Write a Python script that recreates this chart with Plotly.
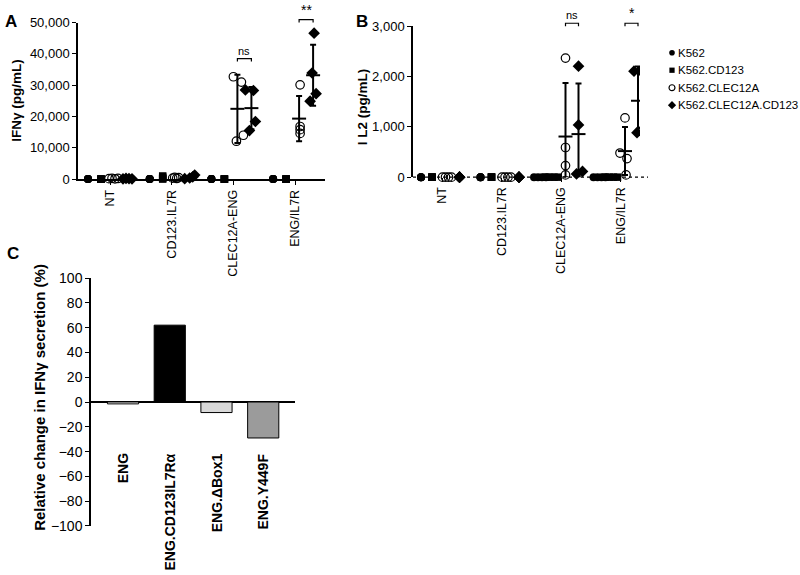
import numpy as np
import plotly.graph_objects as go

# ---------------- data ----------------
GROUPS = ["NT", "CD123.IL7R", "CLEC12A-ENG", "ENG/IL7R"]
TARGETS = ["K562", "K562.CD123", "K562.CLEC12A", "K562.CLEC12A.CD123"]

# Panel A: IFNγ (pg/mL), one list per effector group (4 replicates)
IFNG_K562 = [[0, 0, 0, 0], [0, 0, 0, 0], [0, 0, 0, 0], [0, 0, 0, 0]]
IFNG_K562_CD123 = [[0, 0, 0, 0], [1000, 600, 250, 0], [0, 0, 0, 0], [0, 0, 0, 0]]
IFNG_K562_CLEC12A = [[150, 250, 100, 200], [300, 550, 200, 450],
                     [32700, 31000, 14000, 12100], [30100, 16800, 15800, 14600]]
IFNG_K562_CLEC12A_CD123 = [[100, 200, 150, 100], [150, 350, 700, 1300],
                           [28500, 28300, 18400, 15500], [46600, 33900, 24900, 27300]]
IFNG_SIG = ["", "", "ns", "**"]
IFNG_TICKS = [0, 10000, 20000, 30000, 40000, 50000]

# Panel B: IL2 (pg/mL)
IL2_K562 = [[0, 0, 0, 0], [0, 0, 0, 0], [0, 0, 0, 0], [0, 0, 0, 0]]
IL2_K562_CD123 = [[0, 0, 0, 0], [0, 0, 0, 0], [0, 0, 0, 0], [0, 0, 0, 0]]
IL2_K562_CLEC12A = [[0, 0, 0, 0], [0, 0, 0, 0], [2370, 590, 230, 45], [1180, 480, 370, 45]]
IL2_K562_CLEC12A_CD123 = [[0, 0, 0, 0], [0, 0, 0, 0], [2210, 1040, 115, 65], [2110, 2110, 885, 980]]
IL2_SIG = ["", "", "ns", "*"]
IL2_TICKS = [0, 1000, 2000, 3000]

# Panel C
C_CONSTRUCTS = ["ENG", "ENG.CD123IL7Rα", "ENG.ΔBox1", "ENG.Y449F"]
C_CHANGE = [-1.5, 62, -8.5, -29]
C_TICKS = list(range(-100, 101, 20))

# ---------------- styles ----------------
W, H = 800, 575
FONT = "Arial, Liberation Sans, sans-serif"
C_COLORS = ["white", "black", "#d9d9d9", "#9b9b9b"]

SYMBOLS = [
    dict(symbol="circle", size=8, color="black"),
    dict(symbol="square", size=7.5, color="black"),
    dict(symbol="circle-open", size=8.5, color="black", line=dict(width=1.2, color="black")),
    dict(symbol="diamond", size=9, color="black"),
]

# jitter (pixels) per panel / target / group
JIT = {
    "A": {0: [[0] * 4] * 4, 1: [[0] * 4] * 4,
          2: [[-5, -2, 1, 4], [-3, -1, 1, 3], [-4, 4, 6, -1], [1, 1, 1, 1]],
          3: [[-5, -2, 1, 4], [-5, 0, 3, 5], [-6, 2, 4, -2], [1, -1, -3, 3]]},
    "B": {0: [[0] * 4, [0] * 4, [-6, -2, 2, 6], [-6, -2, 2, 6]],
          1: [[0] * 4, [0] * 4, [-5, -1, 3, 7], [-5, -1, 3, 7]],
          2: [[-4, -1, 2, 5], [-4, -1, 2, 5], [0, 0, 0, 0], [0, -5, 2, 1]],
          3: [[0] * 4, [0] * 4, [0, 0, 4, -2], [-4, 3, -1, 6]]},
}

PANELS = {
    "A": dict(xa="x", ya="y", xkey="xaxis", ykey="yaxis",
              data=[IFNG_K562, IFNG_K562_CD123, IFNG_K562_CLEC12A, IFNG_K562_CLEC12A_CD123],
              sig=IFNG_SIG, ticks=IFNG_TICKS, xpx=(78, 325), ypx=(15, 176),
              c0=110, unit=61.7, offs=[-22, -9, 4, 18], brk=[None, None, 52, 12],
              sigsize=[0, 0, 11, 14], title="<b>IFNγ (pg/mL)</b>", tpos=(17, 95.5),
              letter="A", lpos=(3, 14)),
    "B": dict(xa="x2", ya="y2", xkey="xaxis2", ykey="yaxis2",
              data=[IL2_K562, IL2_K562_CD123, IL2_K562_CLEC12A, IL2_K562_CLEC12A_CD123],
              sig=IL2_SIG, ticks=IL2_TICKS, xpx=(413, 648), ypx=(19, 174),
              c0=442, unit=59.5, offs=[-21, -10, 4.5, 17.5], brk=[None, None, 15.7, 15.7],
              sigsize=[0, 0, 11, 14], title="<b>I L2 (pg/mL)</b>", tpos=(362, 102),
              letter="B", lpos=(354, 14)),
}


def px2x(p):
    return p / W


def py2y(p):
    return 1 - p / H


fig = go.Figure()
shapes = []
annotations = []

for key, P in PANELS.items():
    unit = P["unit"]
    xr = [(P["xpx"][0] - P["c0"]) / unit, (P["xpx"][1] - P["c0"]) / unit]
    xdom = [px2x(P["xpx"][0]), px2x(P["xpx"][1])]
    ymax = P["ticks"][-1]

    def to_paper_x(xv, xr=xr, xdom=xdom):
        return xdom[0] + (xv - xr[0]) / (xr[1] - xr[0]) * (xdom[1] - xdom[0])

    for s, series in enumerate(P["data"]):
        for g, vals in enumerate(series):
            col = g + P["offs"][s] / unit
            xs = [col + j / unit for j in JIT[key][s][g]]
            fig.add_trace(go.Scatter(
                x=xs, y=vals, mode="markers", xaxis=P["xa"], yaxis=P["ya"],
                marker=SYMBOLS[s], cliponaxis=False, showlegend=False, hoverinfo="skip"))
            arr = np.array(vals, dtype=float)
            mean = arr.mean()
            if mean > 0.03 * ymax:
                sd = arr.std(ddof=1)
                fig.add_trace(go.Scatter(
                    x=[col], y=[mean], mode="markers", xaxis=P["xa"], yaxis=P["ya"],
                    marker=dict(symbol="line-ew", size=10, color="black",
                                line=dict(width=2, color="black")),
                    error_y=dict(type="data", array=[sd], arrayminus=[min(sd, mean)],
                                 color="black", thickness=2, width=3),
                    cliponaxis=False, showlegend=False, hoverinfo="skip"))

    # significance brackets
    for g, lab in enumerate(P["sig"]):
        if not lab:
            continue
        x0 = to_paper_x(g + P["offs"][2] / unit)
        x1 = to_paper_x(g + P["offs"][3] / unit)
        yb = P["brk"][g]
        shapes.append(dict(type="path", xref="paper", yref="paper",
                           path=f"M {x0},{py2y(yb + 3)} L {x0},{py2y(yb)} L {x1},{py2y(yb)} L {x1},{py2y(yb + 3)}",
                           line=dict(color="black", width=1.2)))
        annotations.append(dict(x=(x0 + x1) / 2, y=py2y(yb - 1), xref="paper", yref="paper",
                                text=lab, showarrow=False, xanchor="center", yanchor="bottom",
                                font=dict(size=P["sigsize"][g], family=FONT, color="black"),
                                borderpad=0))

    fig.update_layout(**{
        P["xkey"]: dict(domain=xdom, range=xr, anchor=P["ya"], tickmode="array",
                        tickvals=list(range(len(GROUPS))), ticktext=GROUPS, tickangle=-90,
                        showline=(key == "A"), linecolor="black", linewidth=1.5,
                        ticks="outside", ticklen=4, tickwidth=1.2, tickcolor="black",
                        showgrid=False, zeroline=False,
                        tickfont=dict(size=12.5, family=FONT, color="black")),
        P["ykey"]: dict(domain=[py2y(P["ypx"][1]), py2y(P["ypx"][0])], range=[0, ymax],
                        anchor=P["xa"], tickmode="array", tickvals=P["ticks"],
                        ticktext=[f"{t:,}" for t in P["ticks"]],
                        showline=True, linecolor="black", linewidth=1.5,
                        ticks="outside", ticklen=4, tickwidth=1.2, tickcolor="black",
                        showgrid=False, zeroline=False,
                        tickfont=dict(size=13, family=FONT, color="black")),
    })

    annotations.append(dict(x=px2x(P["tpos"][0]), y=py2y(P["tpos"][1]), xref="paper", yref="paper",
                            text=P["title"], textangle=-90, showarrow=False,
                            xanchor="center", yanchor="middle",
                            font=dict(size=13.5, family=FONT, color="black")))
    annotations.append(dict(x=px2x(P["lpos"][0]), y=py2y(P["lpos"][1]), xref="paper", yref="paper",
                            text=f"<b>{P['letter']}</b>", showarrow=False,
                            xanchor="left", yanchor="middle",
                            font=dict(size=17, family=FONT, color="black")))

# dashed baseline for panel B
shapes.append(dict(type="line", xref="paper", yref="paper", layer="below",
                   x0=px2x(413), x1=px2x(648), y0=py2y(174), y1=py2y(174),
                   line=dict(color="black", width=1.3, dash="3px,3px")))

# legend (own hidden axes in pixel units)
LEG_ROWS = [46, 64, 82, 100]
for s, name in enumerate(TARGETS):
    m = dict(SYMBOLS[s])
    m["size"] = m["size"] * 0.7
    fig.add_trace(go.Scatter(x=[672], y=[LEG_ROWS[s]], mode="markers", xaxis="x4", yaxis="y4",
                             marker=m, cliponaxis=False, showlegend=False, hoverinfo="skip"))
    annotations.append(dict(x=676, y=LEG_ROWS[s], xref="x4", yref="y4", text=name,
                            showarrow=False, xanchor="left", yanchor="middle",
                            font=dict(size=11.5, family=FONT, color="black")))
fig.update_layout(
    xaxis4=dict(domain=[0.8, 1.0], range=[640, 800], visible=False, anchor="y4"),
    yaxis4=dict(domain=[0.7, 1.0], range=[172.5, 0], visible=False, anchor="x4"),
)

# ---------------- panel C ----------------
fig.add_trace(go.Bar(x=C_CONSTRUCTS, y=C_CHANGE, xaxis="x3", yaxis="y3", width=0.667,
                     marker=dict(color=C_COLORS, line=dict(color="black", width=1)),
                     showlegend=False, hoverinfo="skip"))
fig.update_layout(
    xaxis3=dict(domain=[px2x(91), px2x(295)], range=[-0.685, 3.68], type="category",
                anchor="y3", showticklabels=False, ticks="", showline=False,
                showgrid=False, zeroline=False),
    yaxis3=dict(domain=[py2y(532.8), py2y(277.8)], range=[-100, 100], anchor="x3",
                tickmode="array", tickvals=C_TICKS, showline=True, linecolor="black",
                linewidth=1.5, ticks="outside", ticklen=4, tickwidth=1.2, tickcolor="black",
                showgrid=False, zeroline=True, zerolinecolor="black", zerolinewidth=2,
                tickfont=dict(size=14, family=FONT, color="black")),
)
for name in C_CONSTRUCTS:
    annotations.append(dict(x=name, y=py2y(456), xref="x3", yref="paper", text=f"<b>{name}</b>",
                            textangle=-90, showarrow=False, xanchor="center", yanchor="top",
                            font=dict(size=14, family=FONT, color="black")))
annotations.append(dict(x=px2x(40), y=py2y(401), xref="paper", yref="paper",
                        text="<b>Relative change in IFNγ secretion (%)</b>", textangle=-90,
                        showarrow=False, xanchor="center", yanchor="middle",
                        font=dict(size=15, family=FONT, color="black")))
annotations.append(dict(x=px2x(5), y=py2y(253), xref="paper", yref="paper", text="<b>C</b>",
                        showarrow=False, xanchor="left", yanchor="middle",
                        font=dict(size=17, family=FONT, color="black")))

fig.update_layout(width=W, height=H, margin=dict(l=0, r=0, t=0, b=0),
                  paper_bgcolor="white", plot_bgcolor="white", showlegend=False,
                  shapes=shapes, annotations=annotations,
                  font=dict(family=FONT, color="black"))

fig.write_html("out.html", config={"displayModeBar": False},
               post_script="document.body.style.margin='0px';")
